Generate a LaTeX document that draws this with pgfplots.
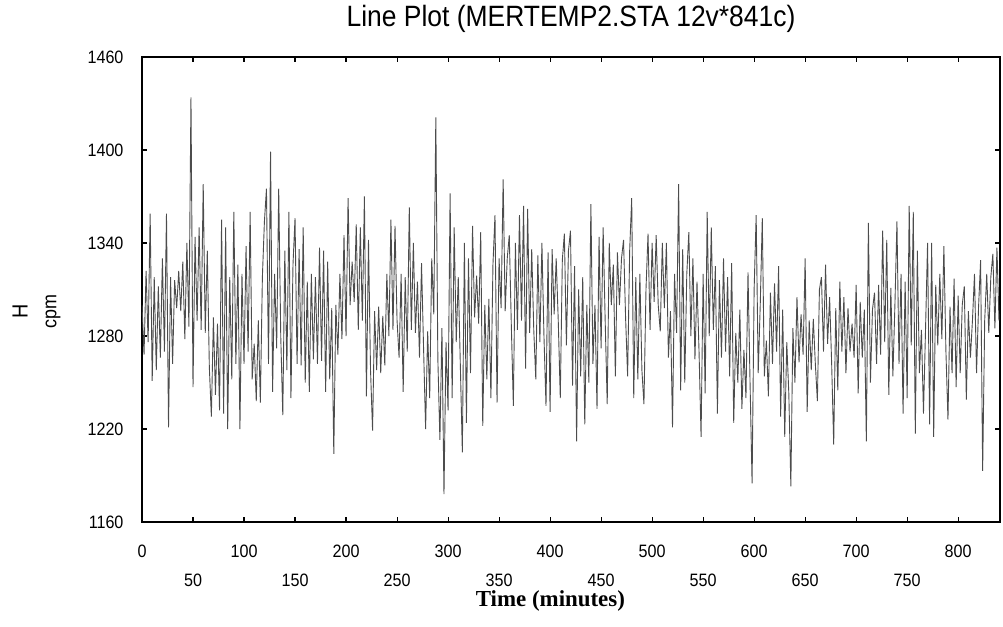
\documentclass[border=0pt]{standalone}
\usepackage{pgfplots}
\pgfplotsset{compat=1.18}
\usepackage{fontspec}
\setmainfont[FakeStretch=0.9]{Liberation Sans}
\newfontfamily\timesfont{Liberation Serif}
\begin{document}
\begin{tikzpicture}
\useasboundingbox (-142bp,-105bp) rectangle (861bp,522bp);
\begin{axis}[
  name=ax,
  at={(0,0)}, anchor=south west,
  scale only axis, width=858bp, height=465bp,
  xmin=0, xmax=841, ymin=1160, ymax=1460,
  xtick={0,100,...,800},
  extra x ticks={50,150,...,750},
  extra x tick style={xticklabel style={yshift=-29bp}},
  ytick={1160,1220,...,1460},
  /pgf/number format/1000 sep={},
  /pgf/number format/assume math mode=true,
  xticklabel style={font=\fontsize{18}{20}\selectfont, yshift=-19bp},
  yticklabel style={font=\fontsize{18}{20}\selectfont, xshift=-15bp},
  axis line style={line width=1.4bp},
  major tick length=5bp,
  tick style={line width=1.1bp, black},
  xlabel={\timesfont\bfseries Time (minutes)},
  xlabel style={font=\fontsize{23}{25}\selectfont, at={(axis description cs:0.476,0)}, anchor=center, yshift=-79bp},
  ylabel={H},
  ylabel style={font=\fontsize{22}{24}\selectfont, at={(axis description cs:-0.142,0.452)}, anchor=center},
  title={Line Plot (MERTEMP2.STA 12v*841c)},
  title style={font=\fontsize{29.5}{31}\selectfont, at={(axis description cs:0.5,1)}, anchor=center, yshift=32bp},
  clip=true,
]
\addplot[line width=0.9bp, color=black!70, mark=none] coordinates {
(0,1300)(2,1268)(4,1322)(6,1276)(8,1359)(10,1251)(12,1318)(14,1258)(16,1312)(18,1266)(20,1330)(22,1270)(24,1359)(26,1221)(28,1318)(30,1262)(32,1316)(34,1298)(36,1322)(38,1296)(40,1328)(42,1278)(44,1340)(46,1286)(48,1434)(50,1247)(52,1344)(54,1290)(56,1350)(58,1284)(60,1378)(62,1282)(64,1335)(66,1260)(68,1228)(70,1292)(72,1242)(74,1288)(76,1232)(78,1355)(80,1230)(82,1350)(84,1220)(86,1318)(88,1252)(90,1360)(92,1262)(94,1326)(96,1220)(98,1320)(100,1262)(102,1338)(104,1270)
(106,1360)(108,1252)(110,1275)(112,1238)(114,1290)(116,1237)(118,1318)(120,1354)(122,1375)(124,1262)(126,1399)(128,1244)(130,1320)(132,1272)(134,1375)(136,1280)(138,1229)(140,1335)(142,1258)(144,1360)(146,1240)(148,1326)(150,1356)(152,1262)(154,1336)(156,1261)(158,1350)(160,1250)(162,1315)(164,1244)(166,1320)(168,1265)(170,1318)(172,1262)(174,1337)(176,1264)(178,1335)(180,1244)(182,1328)(184,1252)(186,1298)(188,1204)(190,1300)(192,1268)(194,1320)(196,1278)(198,1345)(200,1280)(202,1369)(204,1300)(206,1328)(208,1302)(210,1352)
(212,1284)(214,1350)(216,1290)(218,1370)(220,1241)(222,1342)(224,1258)(226,1219)(228,1296)(230,1258)(232,1299)(234,1256)(236,1293)(238,1261)(240,1320)(242,1280)(244,1355)(246,1284)(248,1351)(250,1290)(252,1266)(254,1320)(256,1244)(258,1318)(260,1270)(262,1363)(264,1284)(266,1340)(268,1282)(270,1315)(272,1266)(274,1327)(276,1272)(278,1220)(280,1283)(282,1240)(284,1330)(286,1294)(288,1421)(290,1265)(292,1213)(294,1285)(296,1178)(298,1276)(300,1232)(302,1372)(304,1240)(306,1350)(308,1276)(310,1318)(312,1262)(314,1205)(316,1340)
(318,1224)(320,1330)(322,1256)(324,1351)(326,1292)(328,1319)(330,1288)(332,1347)(334,1222)(336,1300)(338,1252)(340,1304)(342,1240)(344,1326)(346,1358)(348,1237)(350,1330)(352,1298)(354,1381)(356,1296)(358,1330)(360,1345)(362,1287)(364,1235)(366,1340)(368,1284)(370,1358)(372,1290)(374,1364)(376,1259)(378,1362)(380,1282)(382,1336)(384,1284)(386,1252)(388,1332)(390,1276)(392,1340)(394,1280)(396,1235)(398,1334)(400,1231)(402,1336)(404,1294)(406,1330)(408,1290)(410,1240)(412,1329)(414,1346)(416,1274)(418,1335)(420,1348)(422,1248)
(424,1325)(426,1212)(428,1310)(430,1254)(432,1318)(434,1223)(436,1300)(438,1250)(440,1365)(442,1262)(444,1300)(446,1233)(448,1344)(450,1272)(452,1350)(454,1290)(456,1236)(458,1340)(460,1300)(462,1326)(464,1254)(466,1334)(468,1300)(470,1330)(472,1342)(474,1292)(476,1254)(478,1335)(480,1369)(482,1240)(484,1318)(486,1252)(488,1320)(490,1258)(492,1236)(494,1310)(496,1346)(498,1284)(500,1340)(502,1302)(504,1345)(506,1300)(508,1283)(510,1340)(512,1298)(514,1340)(516,1266)(518,1296)(520,1221)(522,1320)(524,1282)(526,1378)(528,1245)
(530,1336)(532,1250)(534,1320)(536,1347)(538,1280)(540,1330)(542,1265)(544,1315)(546,1270)(548,1215)(550,1320)(552,1243)(554,1360)(556,1280)(558,1350)(560,1284)(562,1325)(564,1230)(566,1316)(568,1266)(570,1330)(572,1270)(574,1318)(576,1254)(578,1327)(580,1224)(582,1282)(584,1250)(586,1297)(588,1233)(590,1271)(592,1240)(594,1321)(596,1250)(598,1185)(600,1310)(602,1358)(604,1256)(606,1300)(608,1356)(610,1254)(612,1277)(614,1241)(616,1308)(618,1262)(620,1314)(622,1270)(624,1325)(626,1228)(628,1297)(630,1215)(632,1276)(634,1243)
(636,1183)(638,1285)(640,1250)(642,1305)(644,1263)(646,1294)(648,1268)(650,1330)(652,1231)(654,1290)(656,1258)(658,1291)(660,1262)(662,1238)(664,1310)(666,1318)(668,1270)(670,1326)(672,1275)(674,1305)(676,1262)(678,1210)(680,1298)(682,1245)(684,1315)(686,1270)(688,1305)(690,1256)(692,1298)(694,1270)(696,1288)(698,1266)(700,1313)(702,1243)(704,1302)(706,1266)(708,1297)(710,1212)(712,1353)(714,1250)(716,1297)(718,1308)(720,1262)(722,1313)(724,1268)(726,1348)(728,1276)(730,1342)(732,1242)(734,1311)(736,1254)(738,1300)(740,1354)
(742,1262)(744,1320)(746,1230)(748,1315)(750,1240)(752,1364)(754,1274)(756,1360)(758,1217)(760,1335)(762,1256)(764,1284)(766,1230)(768,1284)(770,1340)(772,1223)(774,1340)(776,1215)(778,1313)(780,1274)(782,1320)(784,1278)(786,1338)(788,1270)(790,1226)(792,1299)(794,1256)(796,1317)(798,1247)(800,1306)(802,1256)(804,1300)(806,1312)(808,1239)(810,1296)(812,1266)(814,1290)(816,1320)(818,1256)(820,1299)(822,1329)(824,1193)(826,1290)(828,1320)(830,1282)(832,1318)(834,1333)(836,1285)(838,1337)(840,1290)
};
\end{axis}
\node[rotate=90, font=\fontsize{20}{22}\selectfont] at ([xshift=-89bp,yshift=-22bp]ax.west) {cpm};
\end{tikzpicture}
\end{document}
